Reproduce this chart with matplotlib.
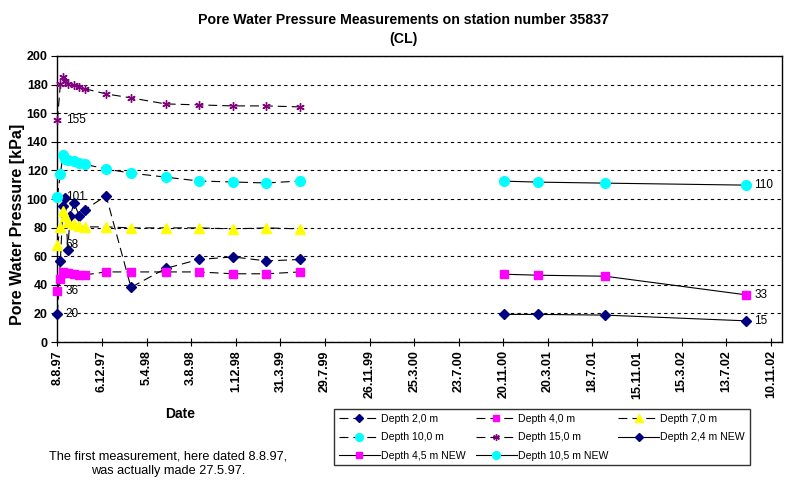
import matplotlib
matplotlib.use("Agg")
import matplotlib.pyplot as plt
import pandas as pd

plt.rcParams['font.family'] = ['Liberation Sans', 'DejaVu Sans']

# ---------------- data ----------------
old_dates = ["1997-08-08", "1997-08-16", "1997-08-23", "1997-08-29", "1997-09-05",
             "1997-09-22", "1997-10-06", "1997-10-22", "1997-12-17", "1998-02-22",
             "1998-05-26", "1998-08-23", "1998-11-24", "1999-02-21", "1999-05-23"]
d20_dates = ["1997-08-08", "1997-08-16", "1997-08-23", "1997-08-29", "1997-09-05",
             "1997-09-11", "1997-09-22", "1997-10-06", "1997-10-22", "1997-12-17",
             "1998-02-22", "1998-05-26", "1998-08-23", "1998-11-24", "1999-02-21",
             "1999-05-23"]
depth_2_0 = [19.8, 56.5, 95.0, 101.0, 64.2, 87.9, 97.2, 87.9, 92.6, 102.3,
             38.2, 51.4, 57.7, 59.5, 56.7, 57.7]
depth_4_0 = [36.0, 44.0, 49.0, 48.6, 48.0, 47.4, 47.0, 47.0, 49.0, 49.0,
             49.0, 49.0, 47.7, 47.7, 49.0]
depth_7_0 = [67.7, 80.5, 91.6, 88.1, 84.0, 82.3, 80.9, 80.5, 80.5, 79.8,
             79.8, 79.8, 79.1, 79.8, 79.1]
depth_10_0 = [101.4, 117.7, 130.5, 128.2, 127.0, 126.5, 125.1, 124.2, 121.0, 118.1,
              115.3, 112.6, 111.9, 111.2, 112.6]
depth_15_0 = [155.0, 180.5, 185.0, 182.8, 180.5, 180.0, 178.6, 177.0, 173.5, 170.7,
              166.5, 165.8, 165.1, 165.1, 164.4]

new_dates = ["2000-11-21", "2001-02-22", "2001-08-21", "2002-09-04"]
depth_2_4_new = [19.3, 19.3, 18.8, 14.8]
depth_4_5_new = [47.4, 46.7, 46.0, 33.0]
depth_10_5_new = [112.5, 111.8, 111.1, 109.7]

tick_start = "1997-08-08"
tick_step_days = 120
n_ticks = 17
y_ticks = list(range(0, 201, 20))

title = "Pore Water Pressure Measurements on station number 35837\n(CL)"
note = "The first measurement, here dated 8.8.97,\nwas actually made 27.5.97."

# ---------------- figure ----------------
W, H = 803, 486
fig = plt.figure(figsize=(W / 100, H / 100), dpi=100)
ax_l, ax_r, ax_t, ax_b = 57.4, 782, 56, 342
ax = fig.add_axes([ax_l / W, 1 - ax_b / H, (ax_r - ax_l) / W, (ax_b - ax_t) / H])

od = pd.to_datetime(old_dates)
d2d = pd.to_datetime(d20_dates)
nd = pd.to_datetime(new_dates)

dash = (0, (8, 4.5))
lw = 0.8
styles = dict(
    d20=dict(marker='D', color='#000080', ms=4.8),
    d40=dict(marker='s', color='#FF00FF', ms=5.5),
    d70=dict(marker='^', color='#FFFF00', ms=6.5),
    d100=dict(marker='o', color='#00FFFF', ms=7),
    d150=dict(marker=(6, 2, 0), color='#800080', ms=6),
)

def plot_series(x, y, st, ls, label):
    ax.plot(x, y, linestyle=ls, color='black', lw=lw, marker=st['marker'],
            ms=st['ms'], mfc=st['color'], mec=st['color'], mew=1.0,
            label=label, zorder=3, clip_on=False)

plot_series(d2d, depth_2_0, styles['d20'], dash, "Depth 2,0 m")
plot_series(od, depth_4_0, styles['d40'], dash, "Depth 4,0 m")
plot_series(od, depth_7_0, styles['d70'], dash, "Depth 7,0 m")
plot_series(od, depth_10_0, styles['d100'], dash, "Depth 10,0 m")
plot_series(od, depth_15_0, styles['d150'], dash, "Depth 15,0 m")
plot_series(nd, depth_2_4_new, styles['d20'], '-', "Depth 2,4 m NEW")
plot_series(nd, depth_4_5_new, styles['d40'], '-', "Depth 4,5 m NEW")
plot_series(nd, depth_10_5_new, styles['d100'], '-', "Depth 10,5 m NEW")

# data labels
for xs, ys in [(d2d, depth_2_0), (od, depth_4_0), (od, depth_7_0),
               (od, depth_10_0), (od, depth_15_0)]:
    ax.annotate(f"{round(ys[0])}", (xs[0], ys[0]), xytext=(6, 0),
                textcoords='offset points', va='center', ha='left', fontsize=8.5)
for ys in [depth_2_4_new, depth_4_5_new, depth_10_5_new]:
    ax.annotate(f"{round(ys[-1])}", (nd[-1], ys[-1]), xytext=(6, 0),
                textcoords='offset points', va='center', ha='left', fontsize=8.5)

# axes
t0 = pd.Timestamp(tick_start)
ticks = [t0 + pd.Timedelta(days=tick_step_days * i) for i in range(n_ticks)]
ax.set_xticks(ticks)
ax.set_xticklabels([f"{t.day}.{t.month}.{t.strftime('%y')}" for t in ticks],
                   rotation=90, fontsize=9, fontweight='bold')
ax.set_xlim(t0, ticks[-1] + pd.Timedelta(days=30))
ax.set_ylim(0, 200)
ax.set_yticks(y_ticks)
ax.set_yticklabels([str(v) for v in y_ticks], fontsize=9, fontweight='bold')
ax.tick_params(axis='x', direction='inout', length=6, width=0.8, pad=3)
ax.tick_params(axis='y', direction='out', length=4, width=0.8, pad=3)
for sp in ax.spines.values():
    sp.set_linewidth(1.0)
    sp.set_color('black')
ax.yaxis.grid(True, linestyle=(0, (3, 3)), color='black', lw=0.8)
ax.set_axisbelow(True)

fig.suptitle(title, x=0.502, y=1 - 13 / H, va='top', fontsize=10.2, fontweight='bold',
             linespacing=1.45)
fig.text(18 / W, 1 - 224 / H, "Pore Water Pressure [kPa]", rotation=90, va='center',
         ha='center', fontsize=11.5, fontweight='bold')
fig.text(180 / W, 1 - 414 / H, "Date", ha='center', va='center', fontsize=10,
         fontweight='bold')
fig.text(168 / W, 1 - 464 / H, note, ha='center', va='center', fontsize=9.2,
         linespacing=1.25)

# legend: column-major order to get the row layout of the reference
h, l = ax.get_legend_handles_labels()
order = [0, 3, 6, 1, 4, 7, 2, 5]
leg = fig.legend([h[i] for i in order], [l[i] for i in order], ncol=3,
                 loc='upper left', bbox_to_anchor=(334 / W, 1 - 409 / H),
                 fontsize=7.6, frameon=True, fancybox=False, edgecolor='black',
                 handlelength=3.9, handletextpad=0.1, columnspacing=0.95,
                 labelspacing=0.8, borderpad=0.45, borderaxespad=0, markerscale=0.8)
leg.get_frame().set_linewidth(1.0)

fig.savefig("out.png", dpi=100)
